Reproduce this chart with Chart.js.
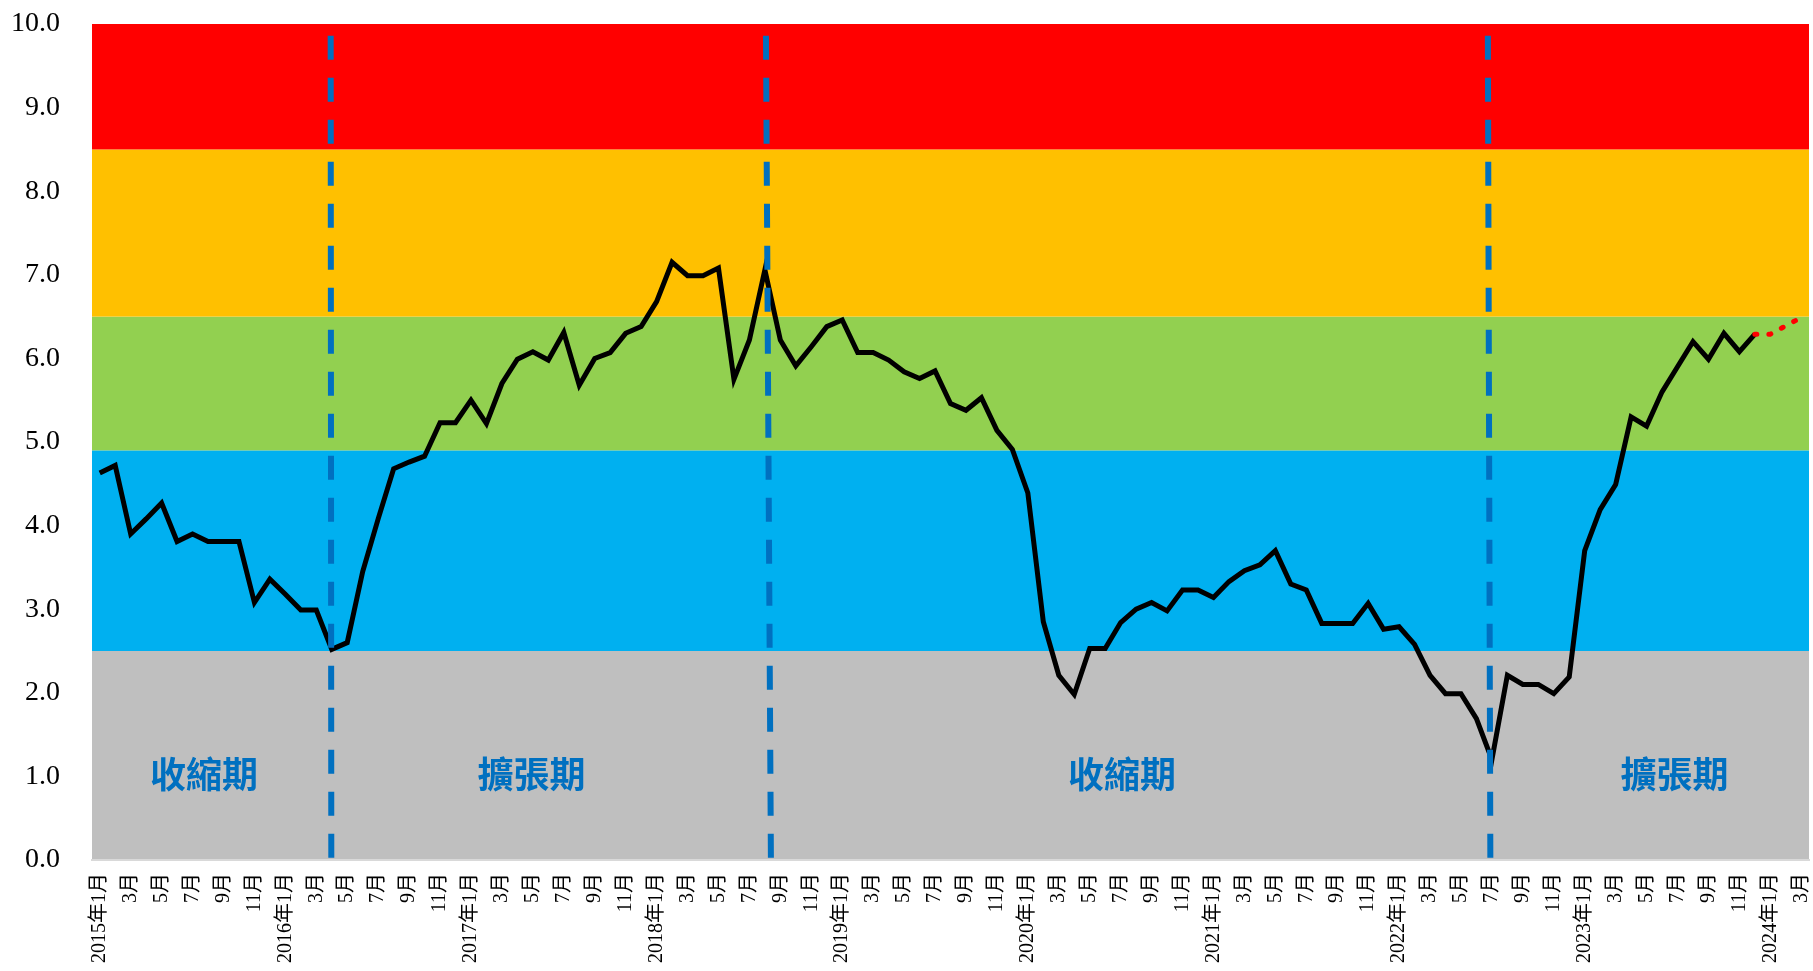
<!DOCTYPE html>
<html>
<head>
<meta charset="utf-8">
<script src="https://cdn.jsdelivr.net/npm/chart.js@4.4.1/dist/chart.umd.min.js"></script>
<style>
html, body { margin: 0; padding: 0; background: #fff; }
#wrap { width: 1813px; height: 971px; position: relative; }
</style>
</head>
<body>
<div id="wrap"><canvas id="chart"></canvas></div>
<script>
// Month categories, 2015/1 .. 2024/3 (every other one is shown on the axis)
const months = [
    '2015年1月', '2月', '3月', '4月', '5月', '6月', '7月', '8月', '9月', '10月', '11月', '12月',
    '2016年1月', '2月', '3月', '4月', '5月', '6月', '7月', '8月', '9月', '10月', '11月', '12月',
    '2017年1月', '2月', '3月', '4月', '5月', '6月', '7月', '8月', '9月', '10月', '11月', '12月',
    '2018年1月', '2月', '3月', '4月', '5月', '6月', '7月', '8月', '9月', '10月', '11月', '12月',
    '2019年1月', '2月', '3月', '4月', '5月', '6月', '7月', '8月', '9月', '10月', '11月', '12月',
    '2020年1月', '2月', '3月', '4月', '5月', '6月', '7月', '8月', '9月', '10月', '11月', '12月',
    '2021年1月', '2月', '3月', '4月', '5月', '6月', '7月', '8月', '9月', '10月', '11月', '12月',
    '2022年1月', '2月', '3月', '4月', '5月', '6月', '7月', '8月', '9月', '10月', '11月', '12月',
    '2023年1月', '2月', '3月', '4月', '5月', '6月', '7月', '8月', '9月', '10月', '11月', '12月',
    '2024年1月', '2月', '3月'
];

// Actual index values, 2015/1 .. 2023/12
const indexValues = [
    4.63, 4.72, 3.90, 4.08, 4.27, 3.81, 3.90, 3.81, 3.81, 3.81, 3.08, 3.36,
    3.18, 2.99, 2.99, 2.52, 2.60, 3.45, 4.08, 4.68, 4.76, 4.83, 5.23, 5.23,
    5.50, 5.22, 5.70, 5.99, 6.08, 5.98, 6.31, 5.68, 6.00, 6.07, 6.30, 6.38,
    6.68, 7.15, 6.99, 6.99, 7.08, 5.75, 6.22, 7.06, 6.22, 5.91, 6.14, 6.38,
    6.46, 6.07, 6.07, 5.98, 5.84, 5.76, 5.85, 5.46, 5.38, 5.53, 5.14, 4.91,
    4.39, 2.85, 2.21, 1.98, 2.53, 2.53, 2.84, 3.00, 3.08, 2.98, 3.23, 3.23,
    3.14, 3.33, 3.46, 3.53, 3.70, 3.30, 3.23, 2.83, 2.83, 2.83, 3.07, 2.76,
    2.79, 2.58, 2.21, 1.99, 1.99, 1.69, 1.20, 2.21, 2.10, 2.10, 1.99, 2.19,
    3.70, 4.19, 4.49, 5.30, 5.19, 5.60, 5.90, 6.20, 5.99, 6.30, 6.08, 6.29
];

// Projection (red dotted), 2023/12 .. 2024/3
const forecastStart = 107;
const forecastValues = [6.29, 6.29, 6.39, 6.49];

// Signal bands
const bandEdges = [0, 2.5, 4.9, 6.5, 8.5, 10];
const bandColors = ['#BFBFBF', '#00B0F0', '#92D050', '#FFC000', '#FF0000'];

// Turning points (month index at top / bottom of the dashed line)
const turnTopX = [14.93, 43.07, 89.74];
const turnBottomX = [14.97, 43.39, 89.90];
const turnTopY = 9.86;

// Phase names
const phaseNames = ['收縮期', '擴張期', '收縮期', '擴張期'];
const phaseX = [6.74, 27.91, 66.08, 101.8];
const phaseY = 1.02;

const serifFont = "'Liberation Serif', 'Noto Sans CJK TC', serif";
const blue = '#0070C0';

// Build datasets
const mainPoints = indexValues.map((v, i) => ({ x: i, y: v }));
const forecastPoints = forecastValues.map((v, i) => ({ x: forecastStart + i, y: v }));

const datasets = [{
    data: mainPoints,
    borderColor: '#000',
    borderWidth: 5,
    borderJoinStyle: 'miter',
    pointRadius: 0,
    order: 2
}, {
    data: forecastPoints,
    borderColor: '#FF0000',
    borderWidth: 5,
    borderDash: [2, 12],
    borderCapStyle: 'round',
    pointRadius: 0,
    order: 1
}];

turnTopX.forEach((x, i) => {
    datasets.push({
        data: [{ x: x, y: turnTopY }, { x: turnBottomX[i], y: 0 }],
        borderColor: blue,
        borderWidth: 6,
        borderDash: [24, 18],
        borderCapStyle: 'butt',
        pointRadius: 0,
        order: 0
    });
});

// Coloured bands behind everything
const bandsPlugin = {
    id: 'bands',
    beforeDraw(chart) {
        const { ctx, chartArea, scales } = chart;
        ctx.save();
        ctx.fillStyle = '#fff';
        ctx.fillRect(0, 0, chart.width, chart.height);
        for (let i = 0; i < bandColors.length; i++) {
            const top = scales.y.getPixelForValue(bandEdges[i + 1]);
            const bottom = scales.y.getPixelForValue(bandEdges[i]);
            ctx.fillStyle = bandColors[i];
            ctx.fillRect(chartArea.left, top, chartArea.right - chartArea.left, bottom - top);
        }
        ctx.restore();
    }
};

// Phase captions
const phasePlugin = {
    id: 'phases',
    afterDatasetsDraw(chart) {
        const { ctx, scales } = chart;
        ctx.save();
        ctx.font = "bold 36px 'Noto Sans CJK TC', sans-serif";
        ctx.fillStyle = blue;
        ctx.textAlign = 'center';
        ctx.textBaseline = 'middle';
        phaseNames.forEach((name, i) => {
            ctx.fillText(name, scales.x.getPixelForValue(phaseX[i]), scales.y.getPixelForValue(phaseY));
        });
        ctx.restore();
    }
};

new Chart(document.getElementById('chart'), {
    type: 'line',
    data: { datasets: datasets },
    plugins: [bandsPlugin, phasePlugin],
    options: {
        responsive: true,
        maintainAspectRatio: false,
        animation: false,
        layout: { padding: { top: 24, right: 4, left: 0, bottom: 0 } },
        plugins: {
            legend: { display: false },
            tooltip: { enabled: false }
        },
        scales: {
            x: {
                type: 'linear',
                min: -0.5,
                max: 110.5,
                bounds: 'data',
                grid: { display: false },
                border: { display: true, color: '#D9D9D9', width: 2 },
                afterBuildTicks(scale) {
                    scale.ticks = months.map((m, i) => ({ value: i })).filter(t => t.value % 2 === 0);
                },
                afterFit(scale) {
                    scale.height = 111;
                    scale.paddingLeft = 0;
                    scale.paddingRight = 0;
                },
                ticks: {
                    autoSkip: false,
                    maxRotation: 90,
                    minRotation: 90,
                    padding: 5,
                    color: '#000',
                    font: { family: serifFont, size: 20 },
                    callback: value => months[value]
                }
            },
            y: {
                min: 0,
                max: 10,
                grid: { display: false },
                border: { display: false },
                afterFit(scale) {
                    scale.width = 92;
                    scale.paddingTop = 0;
                    scale.paddingBottom = 0;
                },
                ticks: {
                    stepSize: 1,
                    padding: 24,
                    color: '#000',
                    font: { family: serifFont, size: 28 },
                    callback: value => value.toFixed(1)
                }
            }
        }
    }
});
</script>
</body>
</html>
